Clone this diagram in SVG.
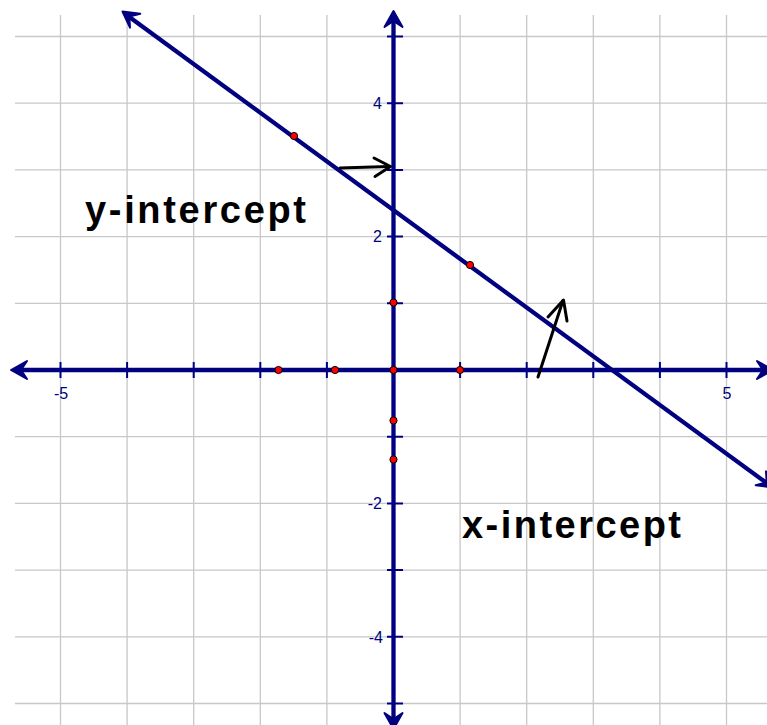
<svg xmlns="http://www.w3.org/2000/svg" width="767" height="725" viewBox="0 0 767 725">
<style>
.grid{stroke:#c8c8c8;stroke-width:1.3;fill:none}
.axis{stroke:#000080;stroke-width:4.3;fill:none;stroke-linecap:butt}
.tick{stroke:#000080;stroke-width:2;fill:none}
.ahead{stroke:#000080;stroke-width:2;fill:#000080;stroke-linejoin:round}
.lbl{font-family:"Liberation Sans",Arial,sans-serif;font-size:16px;fill:#000080}
.pt{fill:#ff0000;stroke:#000;stroke-width:1}
.blk{stroke:#000;stroke-width:3;fill:none;stroke-linecap:round;stroke-linejoin:round}
.big{font-family:"Liberation Sans",Arial,sans-serif;font-size:38px;font-weight:bold;fill:#000}
</style>
<rect width="767" height="725" fill="#fff"/>
<g id="grid">
<path class="grid" d="M60.5 15V725M127.1 15V725M193.7 15V725M260.3 15V725M326.9 15V725M460.1 15V725M526.7 15V725M593.3 15V725M659.9 15V725M726.5 15V725"/>
<path class="grid" d="M15 36.5H767M15 103.2H767M15 169.9H767M15 236.6H767M15 303.3H767M15 436.7H767M15 503.4H767M15 570.1H767M15 636.8H767M15 703.5H767"/>
</g>
<g id="axes">
<path class="axis" d="M18 370H768"/>
<path class="axis" d="M393.5 18V725"/>
<path class="ahead" d="M11 370L27 361L21 370L27 379Z"/>
<path class="ahead" d="M773 370L757 361L763 370L757 379Z"/>
<path class="ahead" d="M393.5 11L384.5 27L393.5 21L402.5 27Z"/>
<path class="ahead" d="M393.5 729L384.5 713L393.5 719L402.5 713Z"/>
<path class="tick" d="M60.5 362V378M127.1 362V378M193.7 362V378M260.3 362V378M326.9 362V378M460.1 362V378M526.7 362V378M593.3 362V378M659.9 362V378M726.5 362V378"/>
<path class="tick" d="M387 36.5H403M387 103.2H403M387 169.9H403M387 236.6H403M387 303.3H403M387 436.7H403M387 503.4H403M387 570.1H403M387 636.8H403M387 703.5H403"/>
<text class="lbl" x="382" y="109" text-anchor="end">4</text>
<text class="lbl" x="382" y="242" text-anchor="end">2</text>
<text class="lbl" x="382" y="509" text-anchor="end">-2</text>
<text class="lbl" x="383" y="643" text-anchor="end">-4</text>
<text class="lbl" x="61" y="399" text-anchor="middle">-5</text>
<text class="lbl" x="727" y="399" text-anchor="middle">5</text>
</g>
<g id="line">
<path class="axis" d="M128 16L768 484"/>
<path class="ahead" d="M122.5 11.5L130 27.6L129.3 16.6L140.3 13.7Z"/>
<path class="ahead" d="M773.5 487.5L766 471.4L766.7 482.4L755.7 485.3Z"/>
</g>
<g id="connectors">
<path class="blk" d="M340 168L389 166.5"/>
<path class="blk" d="M374 158L390.5 166.5L375 176.5"/>
<path class="blk" d="M538 377L563 300.5"/>
<path class="blk" d="M548 317L563.5 300L567 321"/>
</g>
<g id="points">
<circle class="pt" cx="294" cy="136" r="3.6"/>
<circle class="pt" cx="470" cy="265" r="3.6"/>
<circle class="pt" cx="393.5" cy="302.5" r="3.6"/>
<circle class="pt" cx="393.5" cy="370" r="3.6"/>
<circle class="pt" cx="393.5" cy="420.5" r="3.6"/>
<circle class="pt" cx="393.5" cy="459.5" r="3.6"/>
<circle class="pt" cx="278.5" cy="370" r="3.6"/>
<circle class="pt" cx="335" cy="370" r="3.6"/>
<circle class="pt" cx="460" cy="370" r="3.6"/>
</g>
<g id="label-y">
<text class="big" x="85" y="223" textLength="221" lengthAdjust="spacing">y-intercept</text>
</g>
<g id="label-x">
<text class="big" x="462" y="538" textLength="219" lengthAdjust="spacing">x-intercept</text>
</g>
</svg>
